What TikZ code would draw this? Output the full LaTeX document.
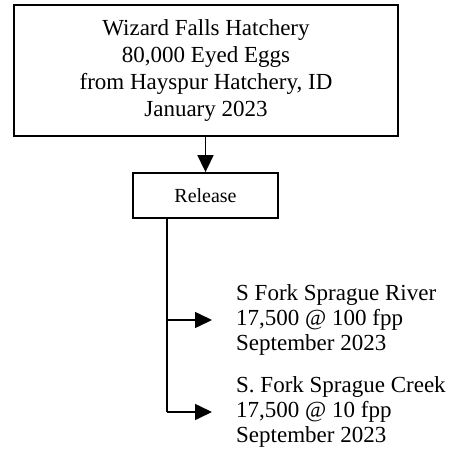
\documentclass[tikz,border=0pt]{standalone}
\usepackage{fontspec}
\setmainfont{Liberation Serif}
\usetikzlibrary{arrows.meta,positioning}
\tikzstyle{box} = [draw,line width=1.8pt,align=center,inner sep=0pt]
\tikzstyle{arrow} = [line width=1.6pt,-{Triangle[length=17pt,width=16pt]}]

\begin{document}
\begin{tikzpicture}[x=1pt,y=-1pt]
  \useasboundingbox (0,0) rectangle (455,462);
  % Hatchery box
  \node [box, minimum width=384pt, minimum height=131pt,
         font=\fontsize{23}{27}\selectfont] (hatch) at (206,70.5)
  {Wizard Falls Hatchery\\80,000 Eyed Eggs\\from Hayspur Hatchery, ID\\January 2023};

  % Release box
  \node [box, minimum width=145pt, minimum height=45pt,
         font=\fontsize{20}{24}\selectfont] (release) at (205.5,195.5)
  {Release};

  % Release sites
  \node [align=left, anchor=west, inner sep=0pt,
         font=\fontsize{23}{25}\selectfont] (river) at (236,320)
  {S Fork Sprague River\\17,500 @ 100 fpp\\September 2023};
  \node [align=left, anchor=west, inner sep=0pt,
         font=\fontsize{23}{25}\selectfont] (creek) at (236,412)
  {S. Fork Sprague Creek\\17,500 @ 10 fpp\\September 2023};

  \coordinate (trunk) at (167,218);
  \draw [arrow] (hatch.south -| release) -- (release.north);
  \draw [line width=1.6pt] (release.south -| trunk) -- (trunk |- creek.west);
  \draw [arrow] (trunk |- river.west) -- ([xshift=-24pt]river.west);
  \draw [arrow] (trunk |- creek.west) -- ([xshift=-24pt]creek.west);
\end{tikzpicture}
\end{document}
